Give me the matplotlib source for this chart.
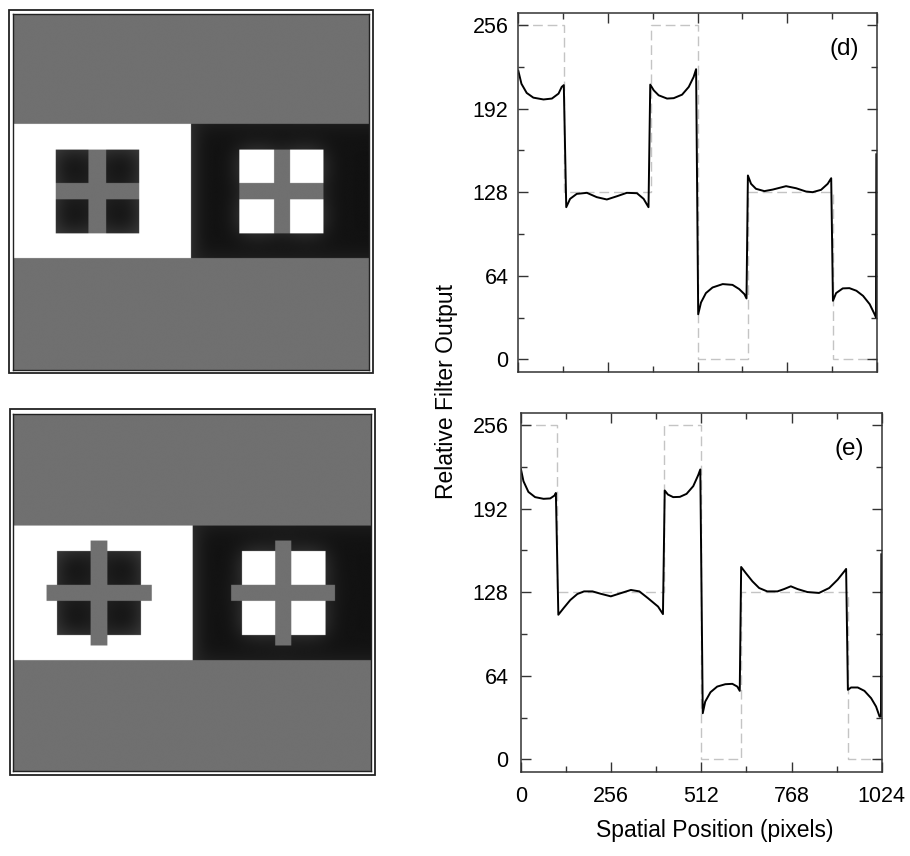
import numpy as np
import matplotlib
matplotlib.use("Agg")
import matplotlib.pyplot as plt
from matplotlib.patches import Rectangle
from matplotlib.ticker import MultipleLocator

plt.rcParams["font.family"] = ["Liberation Sans", "DejaVu Sans"]

# -------------------------
# Filter output profiles (d) and (e)
# -------------------------

# (d): input step edges / levels along the profile row
input_edges_d = [0, 131, 378, 512, 657, 899, 1024]
input_levels_d = [256, 128, 256, 0, 128, 0]

pos_d = [0, 9, 24, 43, 72, 96, 115, 124, 130,
         137, 148, 167, 196, 224, 253, 282, 310, 339, 358, 372,
         377, 387, 401, 425, 444, 468, 487, 501, 508,
         514, 522, 536, 555, 584, 612, 631, 646, 652,
         656, 665, 679, 703, 727, 765, 794, 822, 841, 865, 884, 894,
         899, 908, 927, 946, 966, 985, 1004, 1018, 1022, 1023]
out_d = [221, 211, 204, 200.4, 199, 199.7, 203.5, 208.6, 210,
         116.5, 122.9, 126.7, 127.5, 124.2, 122.4, 124.9, 127.5, 127.2, 122.9, 116.5,
         210.4, 206, 202.2, 199.7, 200, 202.7, 208.6, 216.3, 222.2,
         34.5, 43.5, 50.7, 55, 57.6, 57, 53.8, 49.9, 46.6,
         140.8, 134.4, 130.6, 128.8, 130, 132.6, 131, 128.5, 128, 129.8, 134.4, 138.7,
         44.8, 50.7, 54.3, 54.5, 52.5, 48.6, 42.2, 34.5, 32, 157]

# (e): cross bars extend past the squares
input_edges_e = [0, 101, 407, 512, 625, 929, 1024]
input_levels_e = [256, 128, 256, 0, 128, 0]

pos_e = [0, 7, 21, 40, 64, 83, 95, 99,
         106, 121, 140, 160, 179, 203, 226, 255, 284, 312, 336, 360, 389, 403,
         408, 417, 432, 451, 470, 489, 503, 509,
         516, 523, 538, 557, 580, 600, 614, 621,
         625, 638, 657, 676, 699, 728, 747, 766, 785, 813, 846, 875, 899, 918, 923,
         928, 937, 956, 975, 994, 1008, 1018, 1022, 1023]
out_e = [222, 213, 204.8, 200.8, 199.5, 199.8, 202, 204,
         110.7, 115.8, 122, 126.6, 128.6, 128.6, 126.8, 124.8, 127.3, 129.7, 128.6, 123.5, 117, 111.2,
         205.9, 202.8, 200.8, 201, 203.3, 209.2, 217.6, 222,
         35.3, 44.2, 51.4, 55.7, 57.5, 57.8, 55.7, 52.4,
         147.3, 142.7, 136.3, 131.2, 128.6, 128.6, 130.4, 132.5, 130.4, 128.1, 127.4, 131.2, 137.6, 144, 145.8,
         53.2, 55, 55, 52.4, 46.8, 40.4, 32.7, 32.7, 157]

# -------------------------
# Stimulus images (1024 x 1024 pixel layout)
# -------------------------

stim_d = {
    "band": (316, 702), "split": 512,
    "squares": [(123, 363), (651, 893)], "square_rows": (390, 631),
    "vbars": [(217, 268), (751, 797)], "vbar_rows": (390, 631),
    "hbars": [(123, 363), (651, 893)], "hbar_rows": (486, 533),
}
stim_e = {
    "band": (320, 706), "split": 514,
    "squares": [(126, 366), (655, 894)], "square_rows": (393, 634),
    "vbars": [(222, 270), (750, 796)], "vbar_rows": (363, 664),
    "hbars": [(96, 397), (624, 921)], "hbar_rows": (490, 536),
}

GRAY, BLACK, WHITE = 0.44, 0.07, 1.0


def make_stimulus(s, n=1024):
    img = np.full((n, n), GRAY)
    r0, r1 = s["band"]
    img[r0:r1, :s["split"]] = WHITE
    img[r0:r1, s["split"]:] = BLACK
    q0, q1 = s["square_rows"]
    (a0, a1), (b0, b1) = s["squares"]
    img[q0:q1, a0:a1] = BLACK
    img[q0:q1, b0:b1] = WHITE
    v0, v1 = s["vbar_rows"]
    for c0, c1 in s["vbars"]:
        img[v0:v1, c0:c1] = GRAY
    h0, h1 = s["hbar_rows"]
    for c0, c1 in s["hbars"]:
        img[h0:h1, c0:c1] = GRAY

    # faint glow of the bright areas into the black parts only
    idx = np.arange(n)
    g = np.exp(-0.5 * ((idx[:, None] - idx[None, :]) / 30.0) ** 2)
    g /= g.sum(axis=1, keepdims=True)
    blur = g @ img @ g.T
    dark = img == BLACK
    img[dark] += 0.22 * np.clip(blur[dark] - BLACK, 0, None)
    return img


W, H = 910, 856
fig = plt.figure(figsize=(W / 100, H / 100), dpi=100)


def px_rect(x0, y0, x1, y1):
    return [x0 / W, 1 - y1 / H, (x1 - x0) / W, (y1 - y0) / H]


image_boxes = [(13, 14, 369, 370), (13.3, 414, 370.7, 770.7)]
frame_boxes = [(9, 10, 373, 373), (10, 409, 375, 775)]

for stim, box, frame in zip([stim_d, stim_e], image_boxes, frame_boxes):
    ax_img = fig.add_axes(px_rect(*box))
    ax_img.imshow(make_stimulus(stim), cmap="gray", vmin=0, vmax=1,
                  aspect="auto", interpolation="antialiased")
    ax_img.set_xticks([])
    ax_img.set_yticks([])
    for sp in ax_img.spines.values():
        sp.set_linewidth(1.0)
        sp.set_color("#222222")
    fx0, fy0, fw, fh = px_rect(*frame)
    fig.patches.append(Rectangle((fx0, fy0), fw, fh, transform=fig.transFigure,
                                 fill=False, edgecolor="#222222", lw=1.3))

# -------------------------
# Profile plots
# -------------------------

plot_boxes = [(518.3, 13.3, 876.7, 371.7), (521, 413.3, 881.7, 771.7)]
panels = [
    ("(d)", input_edges_d, input_levels_d, pos_d, out_d, 7),
    ("(e)", input_edges_e, input_levels_e, pos_e, out_e, 9),
]

for i, (tag, edges, levels, pos, out, ypad) in enumerate(panels):
    ax = fig.add_axes(px_rect(*plot_boxes[i]))
    ax.stairs(levels, edges, baseline=None, color="#c4c4c4", lw=1.0,
              linestyle=(0, (7, 3.5)), zorder=1)
    ax.plot(pos, out, color="black", lw=1.4, zorder=2)

    ax.set_xlim(0, 1024)
    ax.set_ylim(-9.5, 265)
    ax.xaxis.set_major_locator(MultipleLocator(256))
    ax.xaxis.set_minor_locator(MultipleLocator(128))
    ax.yaxis.set_major_locator(MultipleLocator(64))
    ax.yaxis.set_minor_locator(MultipleLocator(32))
    ax.tick_params(which="both", direction="in", top=True, right=True,
                   width=1.0, color="#333333", labelsize=15.5)
    ax.tick_params(which="major", length=7)
    ax.tick_params(which="minor", length=4.5)
    ax.tick_params(axis="y", pad=ypad)
    ax.tick_params(axis="x", pad=10)
    if i == 0:
        ax.tick_params(axis="x", labelbottom=False)
    for sp in ax.spines.values():
        sp.set_linewidth(1.1)
        sp.set_color("#333333")

    ax.text(0.91, 0.9, tag, transform=ax.transAxes, fontsize=17.5,
            ha="center", va="center")

fig.text(715 / W, 1 - 830 / H, "Spatial Position (pixels)",
         ha="center", va="center", fontsize=16.5)
fig.text(447 / W, 1 - 392 / H, "Relative Filter Output",
         ha="center", va="center", rotation=90, fontsize=16.5)

fig.savefig("out.png", dpi=100)
